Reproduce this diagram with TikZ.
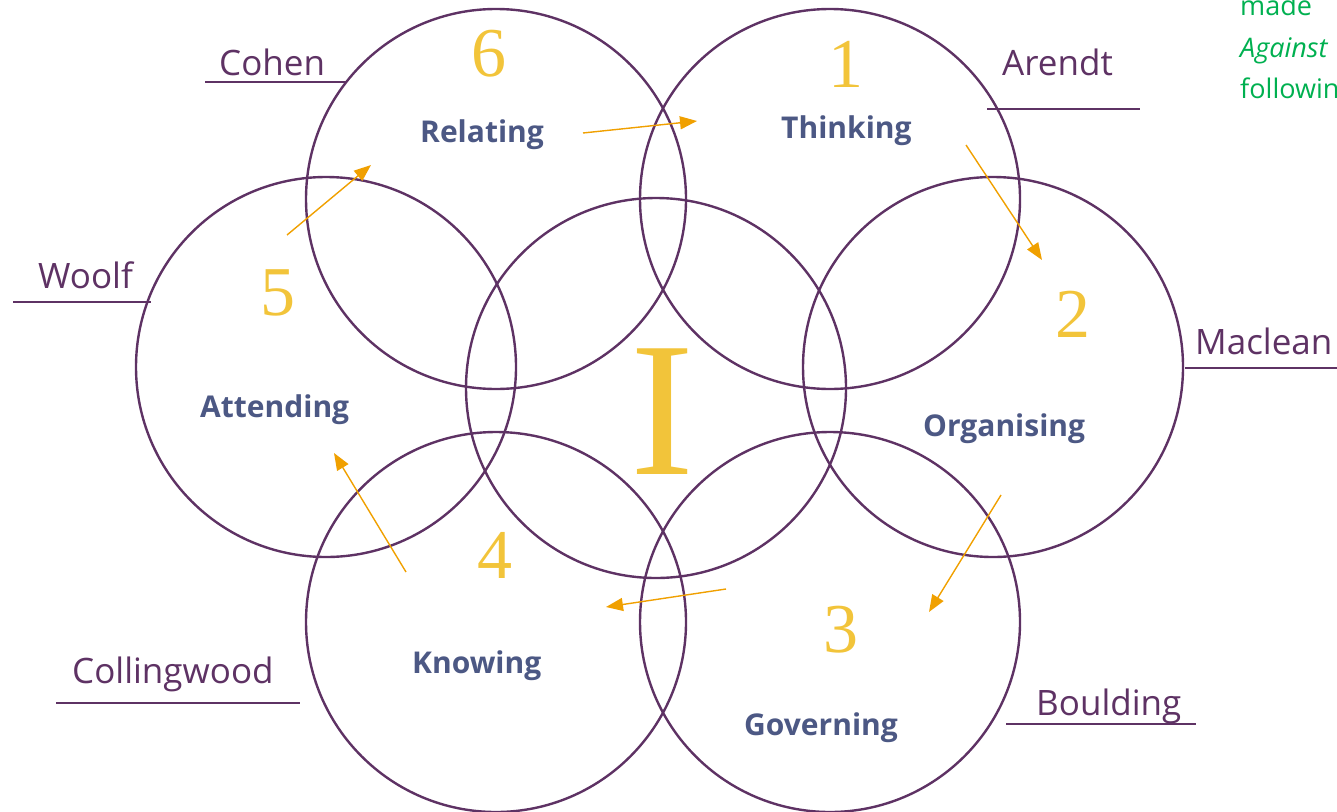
\documentclass[tikz,border=0pt]{standalone}
\usepackage{fontspec}
\setmainfont{Open Sans}
\newfontfamily\numfont{Liberation Serif}
\usetikzlibrary{arrows.meta}
\definecolor{ringc}{RGB}{94,50,100}
\definecolor{actc}{RGB}{76,88,132}
\definecolor{numc}{RGB}{242,196,58}
\definecolor{arrc}{RGB}{240,160,0}
\definecolor{grnc}{RGB}{0,176,80}
\tikzset{
  ring/.style={circle, draw=ringc, line width=2.4pt, minimum size=380pt, inner sep=0pt},
  act/.style={anchor=base west, inner sep=0pt, text=actc, font=\fontsize{30}{34}\selectfont\bfseries},
  num/.style={anchor=base, inner sep=0pt, text=numc, font=\numfont\fontsize{70}{70}\selectfont},
  author/.style={anchor=base west, inner sep=0pt, text=ringc, font=\fontsize{35}{40}\selectfont},
  uline/.style={draw=ringc, line width=2.4pt},
  flow/.style={draw=arrc, line width=1.4pt, -{Triangle[length=17pt,width=13pt]}},
  note/.style={anchor=base west, inner sep=0pt, text=grnc, font=\fontsize{27}{30}\selectfont}
}
\begin{document}
\begin{tikzpicture}[x=1pt,y=-1pt]
\useasboundingbox (0,0) rectangle (1337,811);
\begin{scope}
\clip (0,0) rectangle (1337,811);
% rings
\node[ring] (rc) at (656,388) {};
\node[ring] (r6) at (496,199) {};
\node[ring] (r1) at (830,199) {};
\node[ring] (r5) at (326,367) {};
\node[ring] (r2) at (993,367) {};
\node[ring] (r4) at (496,622) {};
\node[ring] (r3) at (830,622) {};
% numbers
\node[num] (n6) at (489,76) {6};
\node[num] (n1) at (846,87) {1};
\node[num] (n2) at (1073,337) {2};
\node[num] (n5) at (278,315) {5};
\node[num] (n4) at (495,578) {4};
\node[num] (n3) at (841,652) {3};
\node[anchor=base, inner sep=0pt, text=numc, font=\numfont\fontsize{192}{192}\selectfont] (bigI) at (662,474) {I};
% activity labels
\node[act] (l6) at (420,142) {Relating};
\node[act] (l1) at (781,138) {Thinking};
\node[act] (l5) at (200,417) {Attending};
\node[act] (l2) at (923,436) {Organising};
\node[act] (l4) at (412,673) {Knowing};
\node[act] (l3) at (744,735) {Governing};
% authors
\node[author] (a6) at (219,75) {Cohen};
\node[author] (a1) at (1002,75) {Arendt};
\node[author] (a5) at (38,288) {Woolf};
\node[author] (a2) at (1195,354) {Maclean};
\node[author] (a4) at (72,683) {Collingwood};
\node[author] (a3) at (1036,715) {Boulding};
\coordinate (u6a) at (205,82);  \coordinate (u6b) at (346,82);
\coordinate (u1a) at (987,109); \coordinate (u1b) at (1140,109);
\coordinate (u5a) at (13,302);  \coordinate (u5b) at (151,302);
\coordinate (u2a) at (1185,368);\coordinate (u2b) at (1337,368);
\coordinate (u4a) at (56,703);  \coordinate (u4b) at (300,703);
\coordinate (u3a) at (1006,724);\coordinate (u3b) at (1196,724);
\draw[uline] (u6a) -- (u6b);
\draw[uline] (u1a) -- (u1b);
\draw[uline] (u5a) -- (u5b);
\draw[uline] (u2a) -- (u2b);
\draw[uline] (u4a) -- (u4b);
\draw[uline] (u3a) -- (u3b);
% flow arrows
\coordinate (f61a) at (583,133);  \coordinate (f61b) at (697,121);
\coordinate (f12a) at (966,145);  \coordinate (f12b) at (1042,260);
\coordinate (f23a) at (1001,495); \coordinate (f23b) at (929,612);
\coordinate (f34a) at (726,589);  \coordinate (f34b) at (606,607);
\coordinate (f45a) at (406,572);  \coordinate (f45b) at (334,453);
\coordinate (f56a) at (287,235);  \coordinate (f56b) at (371,165);
\draw[flow] (f61a) -- (f61b);
\draw[flow] (f12a) -- (f12b);
\draw[flow] (f23a) -- (f23b);
\draw[flow] (f34a) -- (f34b);
\draw[flow] (f45a) -- (f45b);
\draw[flow] (f56a) -- (f56b);
% green note, cut by the page edge as in the reference
\node[note] (g1) at (1240,16) {made};
\node[note] (g2) at (1240,57) {\itshape Against};
\node[note] (g3) at (1240,98) {following};
\end{scope}
\end{tikzpicture}
\end{document}
